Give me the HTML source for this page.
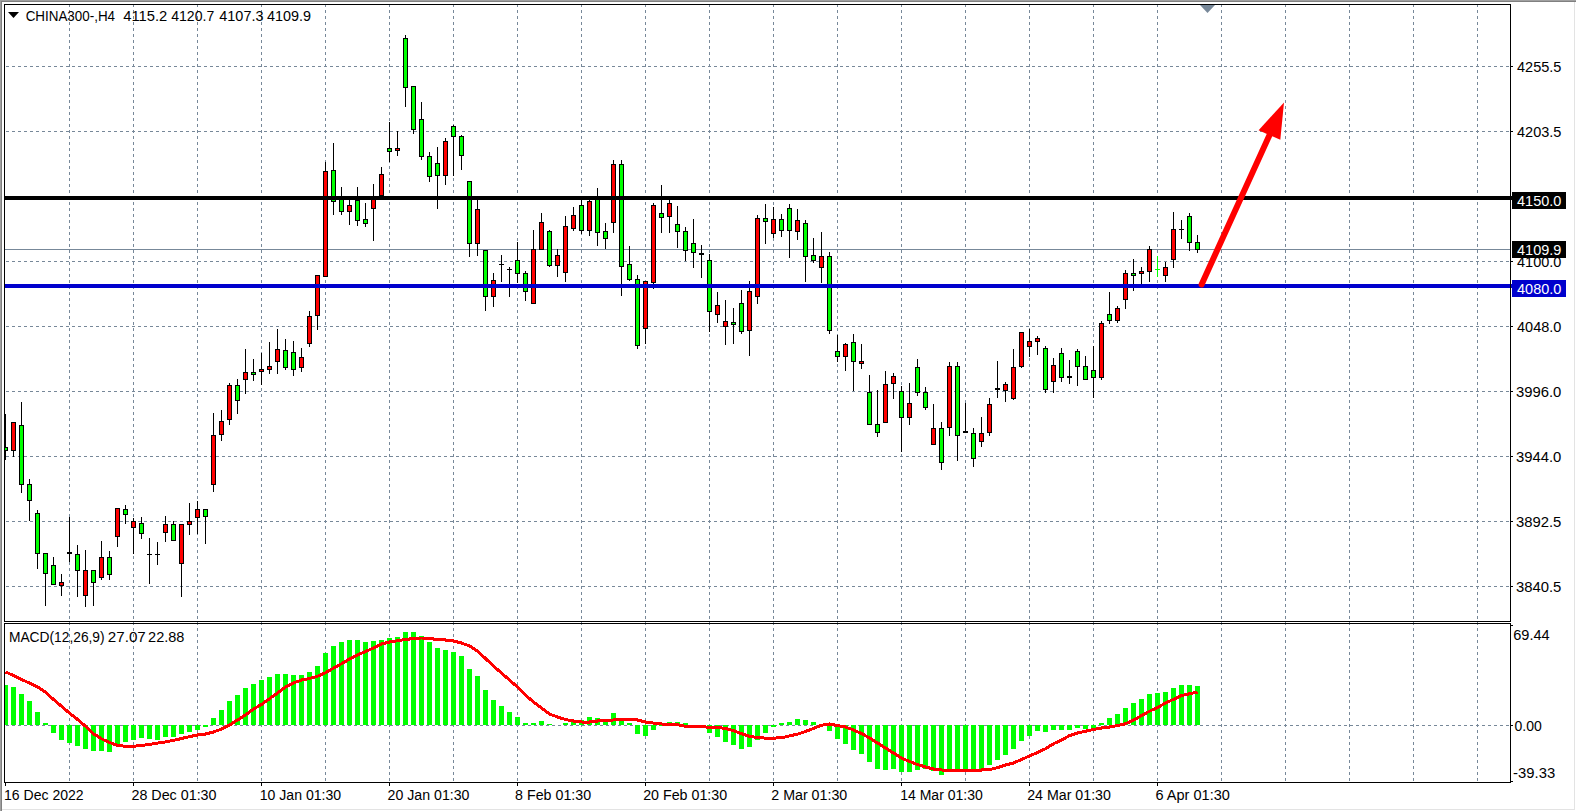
<!DOCTYPE html>
<html><head><meta charset="utf-8"><title>CHINA300-,H4</title>
<style>
html,body{margin:0;padding:0;background:#fff;overflow:hidden;}
svg{display:block;}
text{font-family:'Liberation Sans', Arial, sans-serif;}
</style></head><body>
<svg width="1576" height="811" viewBox="0 0 1576 811">
<rect x="0" y="0" width="1576" height="811" fill="#fff"/>

<g shape-rendering="crispEdges">
<rect x="0" y="0" width="1576" height="1" fill="#a0a0a0"/>
<rect x="0" y="1" width="1576" height="1" fill="#808080"/>
<rect x="0" y="0" width="1" height="811" fill="#a0a0a0"/>
<rect x="1" y="1" width="1" height="810" fill="#808080"/>
<rect x="1574" y="2" width="1" height="808" fill="#e3e3e3"/>
<rect x="2" y="809" width="1573" height="1" fill="#e3e3e3"/>
</g>
<defs><clipPath id="cm"><rect x="5" y="5" width="1505" height="616"/></clipPath><clipPath id="cv"><rect x="5" y="5" width="1505" height="777"/></clipPath><clipPath id="cd"><rect x="5" y="624" width="1505" height="158"/></clipPath></defs>
<g clip-path="url(#cm)" shape-rendering="crispEdges" stroke="#778899" stroke-width="1" stroke-dasharray="3 3" fill="none">
<line x1="0" y1="66.5" x2="1510" y2="66.5"/>
<line x1="0" y1="131.5" x2="1510" y2="131.5"/>
<line x1="0" y1="196.5" x2="1510" y2="196.5"/>
<line x1="0" y1="261.5" x2="1510" y2="261.5"/>
<line x1="0" y1="326.5" x2="1510" y2="326.5"/>
<line x1="0" y1="391.5" x2="1510" y2="391.5"/>
<line x1="0" y1="456.5" x2="1510" y2="456.5"/>
<line x1="0" y1="521.5" x2="1510" y2="521.5"/>
<line x1="0" y1="586.5" x2="1510" y2="586.5"/>
</g>
<g clip-path="url(#cv)" shape-rendering="crispEdges" stroke="#778899" stroke-width="1" stroke-dasharray="3 3" fill="none">
<line x1="69.5" y1="-2" x2="69.5" y2="790"/>
<line x1="133.5" y1="-2" x2="133.5" y2="790"/>
<line x1="197.5" y1="-2" x2="197.5" y2="790"/>
<line x1="261.5" y1="-2" x2="261.5" y2="790"/>
<line x1="325.5" y1="-2" x2="325.5" y2="790"/>
<line x1="389.5" y1="-2" x2="389.5" y2="790"/>
<line x1="453.5" y1="-2" x2="453.5" y2="790"/>
<line x1="517.5" y1="-2" x2="517.5" y2="790"/>
<line x1="581.5" y1="-2" x2="581.5" y2="790"/>
<line x1="645.5" y1="-2" x2="645.5" y2="790"/>
<line x1="709.5" y1="-2" x2="709.5" y2="790"/>
<line x1="773.5" y1="-2" x2="773.5" y2="790"/>
<line x1="837.5" y1="-2" x2="837.5" y2="790"/>
<line x1="901.5" y1="-2" x2="901.5" y2="790"/>
<line x1="965.5" y1="-2" x2="965.5" y2="790"/>
<line x1="1029.5" y1="-2" x2="1029.5" y2="790"/>
<line x1="1093.5" y1="-2" x2="1093.5" y2="790"/>
<line x1="1157.5" y1="-2" x2="1157.5" y2="790"/>
<line x1="1221.5" y1="-2" x2="1221.5" y2="790"/>
<line x1="1285.5" y1="-2" x2="1285.5" y2="790"/>
<line x1="1349.5" y1="-2" x2="1349.5" y2="790"/>
<line x1="1413.5" y1="-2" x2="1413.5" y2="790"/>
<line x1="1477.5" y1="-2" x2="1477.5" y2="790"/>
</g>
<g clip-path="url(#cd)" shape-rendering="crispEdges" stroke="#778899" stroke-width="1" stroke-dasharray="3 3" fill="none">
<line x1="0" y1="725.5" x2="1510" y2="725.5"/>
</g>
<rect x="5" y="249" width="1505" height="1" fill="#778899" shape-rendering="crispEdges"/>
<g clip-path="url(#cm)" shape-rendering="crispEdges">
<rect x="5" y="414" width="1" height="46" fill="#000"/>
<rect x="3" y="447" width="5" height="4" fill="#000"/>
<rect x="4" y="448" width="3" height="2" fill="#00ff00"/>
<rect x="13" y="422" width="1" height="35" fill="#000"/>
<rect x="11" y="422" width="5" height="29" fill="#000"/>
<rect x="12" y="423" width="3" height="27" fill="#ff0000"/>
<rect x="21" y="402" width="1" height="91" fill="#000"/>
<rect x="19" y="425" width="5" height="60" fill="#000"/>
<rect x="20" y="426" width="3" height="58" fill="#00ff00"/>
<rect x="29" y="479" width="1" height="42" fill="#000"/>
<rect x="27" y="484" width="5" height="17" fill="#000"/>
<rect x="28" y="485" width="3" height="15" fill="#00ff00"/>
<rect x="37" y="510" width="1" height="59" fill="#000"/>
<rect x="35" y="513" width="5" height="41" fill="#000"/>
<rect x="36" y="514" width="3" height="39" fill="#00ff00"/>
<rect x="45" y="553" width="1" height="53" fill="#000"/>
<rect x="43" y="553" width="5" height="21" fill="#000"/>
<rect x="44" y="554" width="3" height="19" fill="#00ff00"/>
<rect x="53" y="557" width="1" height="28" fill="#000"/>
<rect x="51" y="565" width="5" height="20" fill="#000"/>
<rect x="52" y="566" width="3" height="18" fill="#00ff00"/>
<rect x="61" y="574" width="1" height="22" fill="#000"/>
<rect x="59" y="582" width="5" height="4" fill="#000"/>
<rect x="60" y="583" width="3" height="2" fill="#ff0000"/>
<rect x="69" y="517" width="1" height="45" fill="#000"/>
<rect x="67" y="552" width="5" height="2" fill="#000"/>
<rect x="77" y="545" width="1" height="52" fill="#000"/>
<rect x="75" y="554" width="5" height="17" fill="#000"/>
<rect x="76" y="555" width="3" height="15" fill="#00ff00"/>
<rect x="85" y="550" width="1" height="57" fill="#000"/>
<rect x="83" y="570" width="5" height="26" fill="#000"/>
<rect x="84" y="571" width="3" height="24" fill="#ff0000"/>
<rect x="93" y="570" width="1" height="36" fill="#000"/>
<rect x="91" y="570" width="5" height="13" fill="#000"/>
<rect x="92" y="571" width="3" height="11" fill="#00ff00"/>
<rect x="101" y="541" width="1" height="39" fill="#000"/>
<rect x="99" y="557" width="5" height="21" fill="#000"/>
<rect x="100" y="558" width="3" height="19" fill="#ff0000"/>
<rect x="109" y="551" width="1" height="29" fill="#000"/>
<rect x="107" y="557" width="5" height="18" fill="#000"/>
<rect x="108" y="558" width="3" height="16" fill="#00ff00"/>
<rect x="117" y="508" width="1" height="39" fill="#000"/>
<rect x="115" y="508" width="5" height="29" fill="#000"/>
<rect x="116" y="509" width="3" height="27" fill="#ff0000"/>
<rect x="125" y="505" width="1" height="19" fill="#000"/>
<rect x="123" y="509" width="5" height="6" fill="#000"/>
<rect x="124" y="510" width="3" height="4" fill="#00ff00"/>
<rect x="133" y="518" width="1" height="36" fill="#000"/>
<rect x="131" y="521" width="5" height="7" fill="#000"/>
<rect x="132" y="522" width="3" height="5" fill="#ff0000"/>
<rect x="141" y="517" width="1" height="22" fill="#000"/>
<rect x="139" y="523" width="5" height="11" fill="#000"/>
<rect x="140" y="524" width="3" height="9" fill="#00ff00"/>
<rect x="149" y="538" width="1" height="46" fill="#000"/>
<rect x="147" y="554" width="5" height="1" fill="#000"/>
<rect x="157" y="542" width="1" height="23" fill="#000"/>
<rect x="155" y="554" width="5" height="1" fill="#000"/>
<rect x="165" y="516" width="1" height="26" fill="#000"/>
<rect x="163" y="524" width="5" height="9" fill="#000"/>
<rect x="164" y="525" width="3" height="7" fill="#ff0000"/>
<rect x="173" y="521" width="1" height="20" fill="#000"/>
<rect x="171" y="524" width="5" height="17" fill="#000"/>
<rect x="172" y="525" width="3" height="15" fill="#00ff00"/>
<rect x="181" y="524" width="1" height="73" fill="#000"/>
<rect x="179" y="524" width="5" height="40" fill="#000"/>
<rect x="180" y="525" width="3" height="38" fill="#ff0000"/>
<rect x="189" y="503" width="1" height="32" fill="#000"/>
<rect x="187" y="521" width="5" height="4" fill="#000"/>
<rect x="188" y="522" width="3" height="2" fill="#ff0000"/>
<rect x="197" y="501" width="1" height="33" fill="#000"/>
<rect x="195" y="509" width="5" height="9" fill="#000"/>
<rect x="196" y="510" width="3" height="7" fill="#ff0000"/>
<rect x="205" y="509" width="1" height="35" fill="#000"/>
<rect x="203" y="509" width="5" height="8" fill="#000"/>
<rect x="204" y="510" width="3" height="6" fill="#00ff00"/>
<rect x="213" y="413" width="1" height="79" fill="#000"/>
<rect x="211" y="435" width="5" height="50" fill="#000"/>
<rect x="212" y="436" width="3" height="48" fill="#ff0000"/>
<rect x="221" y="410" width="1" height="31" fill="#000"/>
<rect x="219" y="421" width="5" height="14" fill="#000"/>
<rect x="220" y="422" width="3" height="12" fill="#ff0000"/>
<rect x="229" y="383" width="1" height="42" fill="#000"/>
<rect x="227" y="385" width="5" height="35" fill="#000"/>
<rect x="228" y="386" width="3" height="33" fill="#ff0000"/>
<rect x="237" y="379" width="1" height="35" fill="#000"/>
<rect x="235" y="385" width="5" height="16" fill="#000"/>
<rect x="236" y="386" width="3" height="14" fill="#00ff00"/>
<rect x="245" y="349" width="1" height="45" fill="#000"/>
<rect x="243" y="372" width="5" height="8" fill="#000"/>
<rect x="244" y="373" width="3" height="6" fill="#ff0000"/>
<rect x="253" y="359" width="1" height="22" fill="#000"/>
<rect x="251" y="372" width="5" height="3" fill="#000"/>
<rect x="252" y="373" width="3" height="1" fill="#00ff00"/>
<rect x="261" y="353" width="1" height="32" fill="#000"/>
<rect x="259" y="369" width="5" height="3" fill="#000"/>
<rect x="260" y="370" width="3" height="1" fill="#ff0000"/>
<rect x="269" y="342" width="1" height="32" fill="#000"/>
<rect x="267" y="366" width="5" height="4" fill="#000"/>
<rect x="268" y="367" width="3" height="2" fill="#ff0000"/>
<rect x="277" y="329" width="1" height="45" fill="#000"/>
<rect x="275" y="349" width="5" height="13" fill="#000"/>
<rect x="276" y="350" width="3" height="11" fill="#ff0000"/>
<rect x="285" y="339" width="1" height="31" fill="#000"/>
<rect x="283" y="350" width="5" height="18" fill="#000"/>
<rect x="284" y="351" width="3" height="16" fill="#00ff00"/>
<rect x="293" y="341" width="1" height="35" fill="#000"/>
<rect x="291" y="352" width="5" height="18" fill="#000"/>
<rect x="292" y="353" width="3" height="16" fill="#00ff00"/>
<rect x="301" y="348" width="1" height="24" fill="#000"/>
<rect x="299" y="357" width="5" height="11" fill="#000"/>
<rect x="300" y="358" width="3" height="9" fill="#ff0000"/>
<rect x="309" y="311" width="1" height="36" fill="#000"/>
<rect x="307" y="316" width="5" height="28" fill="#000"/>
<rect x="308" y="317" width="3" height="26" fill="#ff0000"/>
<rect x="317" y="275" width="1" height="55" fill="#000"/>
<rect x="315" y="275" width="5" height="41" fill="#000"/>
<rect x="316" y="276" width="3" height="39" fill="#ff0000"/>
<rect x="325" y="162" width="1" height="115" fill="#000"/>
<rect x="323" y="171" width="5" height="106" fill="#000"/>
<rect x="324" y="172" width="3" height="104" fill="#ff0000"/>
<rect x="333" y="143" width="1" height="72" fill="#000"/>
<rect x="331" y="170" width="5" height="32" fill="#000"/>
<rect x="332" y="171" width="3" height="30" fill="#00ff00"/>
<rect x="341" y="187" width="1" height="28" fill="#000"/>
<rect x="339" y="199" width="5" height="13" fill="#000"/>
<rect x="340" y="200" width="3" height="11" fill="#00ff00"/>
<rect x="349" y="200" width="1" height="25" fill="#000"/>
<rect x="347" y="205" width="5" height="7" fill="#000"/>
<rect x="348" y="206" width="3" height="5" fill="#ff0000"/>
<rect x="357" y="187" width="1" height="39" fill="#000"/>
<rect x="355" y="200" width="5" height="21" fill="#000"/>
<rect x="356" y="201" width="3" height="19" fill="#00ff00"/>
<rect x="365" y="203" width="1" height="24" fill="#000"/>
<rect x="363" y="219" width="5" height="5" fill="#000"/>
<rect x="364" y="220" width="3" height="3" fill="#00ff00"/>
<rect x="373" y="184" width="1" height="57" fill="#000"/>
<rect x="371" y="199" width="5" height="10" fill="#000"/>
<rect x="372" y="200" width="3" height="8" fill="#ff0000"/>
<rect x="381" y="167" width="1" height="29" fill="#000"/>
<rect x="379" y="174" width="5" height="22" fill="#000"/>
<rect x="380" y="175" width="3" height="20" fill="#ff0000"/>
<rect x="389" y="122" width="1" height="40" fill="#000"/>
<rect x="387" y="148" width="5" height="4" fill="#000"/>
<rect x="388" y="149" width="3" height="2" fill="#00ff00"/>
<rect x="397" y="131" width="1" height="25" fill="#000"/>
<rect x="395" y="148" width="5" height="3" fill="#000"/>
<rect x="396" y="149" width="3" height="1" fill="#ff0000"/>
<rect x="405" y="35" width="1" height="72" fill="#000"/>
<rect x="403" y="38" width="5" height="50" fill="#000"/>
<rect x="404" y="39" width="3" height="48" fill="#00ff00"/>
<rect x="413" y="86" width="1" height="48" fill="#000"/>
<rect x="411" y="86" width="5" height="44" fill="#000"/>
<rect x="412" y="87" width="3" height="42" fill="#00ff00"/>
<rect x="421" y="102" width="1" height="58" fill="#000"/>
<rect x="419" y="119" width="5" height="38" fill="#000"/>
<rect x="420" y="120" width="3" height="36" fill="#00ff00"/>
<rect x="429" y="152" width="1" height="30" fill="#000"/>
<rect x="427" y="156" width="5" height="21" fill="#000"/>
<rect x="428" y="157" width="3" height="19" fill="#00ff00"/>
<rect x="437" y="147" width="1" height="62" fill="#000"/>
<rect x="435" y="163" width="5" height="13" fill="#000"/>
<rect x="436" y="164" width="3" height="11" fill="#00ff00"/>
<rect x="445" y="138" width="1" height="47" fill="#000"/>
<rect x="443" y="141" width="5" height="35" fill="#000"/>
<rect x="444" y="142" width="3" height="33" fill="#ff0000"/>
<rect x="453" y="125" width="1" height="51" fill="#000"/>
<rect x="451" y="126" width="5" height="11" fill="#000"/>
<rect x="452" y="127" width="3" height="9" fill="#00ff00"/>
<rect x="461" y="135" width="1" height="35" fill="#000"/>
<rect x="459" y="136" width="5" height="20" fill="#000"/>
<rect x="460" y="137" width="3" height="18" fill="#00ff00"/>
<rect x="469" y="181" width="1" height="76" fill="#000"/>
<rect x="467" y="181" width="5" height="63" fill="#000"/>
<rect x="468" y="182" width="3" height="61" fill="#00ff00"/>
<rect x="477" y="200" width="1" height="56" fill="#000"/>
<rect x="475" y="209" width="5" height="35" fill="#000"/>
<rect x="476" y="210" width="3" height="33" fill="#ff0000"/>
<rect x="485" y="250" width="1" height="61" fill="#000"/>
<rect x="483" y="250" width="5" height="47" fill="#000"/>
<rect x="484" y="251" width="3" height="45" fill="#00ff00"/>
<rect x="493" y="273" width="1" height="34" fill="#000"/>
<rect x="491" y="280" width="5" height="17" fill="#000"/>
<rect x="492" y="281" width="3" height="15" fill="#ff0000"/>
<rect x="501" y="255" width="1" height="27" fill="#000"/>
<rect x="499" y="264" width="5" height="1" fill="#000"/>
<rect x="509" y="267" width="1" height="30" fill="#000"/>
<rect x="507" y="269" width="5" height="1" fill="#000"/>
<rect x="517" y="242" width="1" height="41" fill="#000"/>
<rect x="515" y="260" width="5" height="14" fill="#000"/>
<rect x="516" y="261" width="3" height="12" fill="#00ff00"/>
<rect x="525" y="271" width="1" height="30" fill="#000"/>
<rect x="523" y="273" width="5" height="19" fill="#000"/>
<rect x="524" y="274" width="3" height="17" fill="#00ff00"/>
<rect x="533" y="230" width="1" height="73" fill="#000"/>
<rect x="531" y="249" width="5" height="55" fill="#000"/>
<rect x="532" y="250" width="3" height="53" fill="#ff0000"/>
<rect x="541" y="213" width="1" height="36" fill="#000"/>
<rect x="539" y="222" width="5" height="28" fill="#000"/>
<rect x="540" y="223" width="3" height="26" fill="#ff0000"/>
<rect x="549" y="230" width="1" height="37" fill="#000"/>
<rect x="547" y="231" width="5" height="35" fill="#000"/>
<rect x="548" y="232" width="3" height="33" fill="#00ff00"/>
<rect x="557" y="249" width="1" height="28" fill="#000"/>
<rect x="555" y="255" width="5" height="11" fill="#000"/>
<rect x="556" y="256" width="3" height="9" fill="#ff0000"/>
<rect x="565" y="216" width="1" height="66" fill="#000"/>
<rect x="563" y="226" width="5" height="47" fill="#000"/>
<rect x="564" y="227" width="3" height="45" fill="#ff0000"/>
<rect x="573" y="207" width="1" height="24" fill="#000"/>
<rect x="571" y="215" width="5" height="14" fill="#000"/>
<rect x="572" y="216" width="3" height="12" fill="#ff0000"/>
<rect x="581" y="200" width="1" height="34" fill="#000"/>
<rect x="579" y="205" width="5" height="26" fill="#000"/>
<rect x="580" y="206" width="3" height="24" fill="#00ff00"/>
<rect x="589" y="200" width="1" height="36" fill="#000"/>
<rect x="587" y="201" width="5" height="30" fill="#000"/>
<rect x="588" y="202" width="3" height="28" fill="#ff0000"/>
<rect x="597" y="188" width="1" height="58" fill="#000"/>
<rect x="595" y="198" width="5" height="35" fill="#000"/>
<rect x="596" y="199" width="3" height="33" fill="#00ff00"/>
<rect x="605" y="223" width="1" height="26" fill="#000"/>
<rect x="603" y="231" width="5" height="8" fill="#000"/>
<rect x="604" y="232" width="3" height="6" fill="#00ff00"/>
<rect x="613" y="160" width="1" height="73" fill="#000"/>
<rect x="611" y="164" width="5" height="59" fill="#000"/>
<rect x="612" y="165" width="3" height="57" fill="#ff0000"/>
<rect x="621" y="160" width="1" height="136" fill="#000"/>
<rect x="619" y="164" width="5" height="103" fill="#000"/>
<rect x="620" y="165" width="3" height="101" fill="#00ff00"/>
<rect x="629" y="246" width="1" height="35" fill="#000"/>
<rect x="627" y="264" width="5" height="16" fill="#000"/>
<rect x="628" y="265" width="3" height="14" fill="#00ff00"/>
<rect x="637" y="275" width="1" height="74" fill="#000"/>
<rect x="635" y="279" width="5" height="67" fill="#000"/>
<rect x="636" y="280" width="3" height="65" fill="#00ff00"/>
<rect x="645" y="281" width="1" height="63" fill="#000"/>
<rect x="643" y="281" width="5" height="48" fill="#000"/>
<rect x="644" y="282" width="3" height="46" fill="#ff0000"/>
<rect x="653" y="203" width="1" height="86" fill="#000"/>
<rect x="651" y="205" width="5" height="78" fill="#000"/>
<rect x="652" y="206" width="3" height="76" fill="#ff0000"/>
<rect x="661" y="185" width="1" height="48" fill="#000"/>
<rect x="659" y="213" width="5" height="5" fill="#000"/>
<rect x="660" y="214" width="3" height="3" fill="#00ff00"/>
<rect x="669" y="200" width="1" height="33" fill="#000"/>
<rect x="667" y="203" width="5" height="14" fill="#000"/>
<rect x="668" y="204" width="3" height="12" fill="#ff0000"/>
<rect x="677" y="206" width="1" height="42" fill="#000"/>
<rect x="675" y="224" width="5" height="8" fill="#000"/>
<rect x="676" y="225" width="3" height="6" fill="#00ff00"/>
<rect x="685" y="227" width="1" height="34" fill="#000"/>
<rect x="683" y="231" width="5" height="20" fill="#000"/>
<rect x="684" y="232" width="3" height="18" fill="#00ff00"/>
<rect x="693" y="219" width="1" height="49" fill="#000"/>
<rect x="691" y="243" width="5" height="10" fill="#000"/>
<rect x="692" y="244" width="3" height="8" fill="#00ff00"/>
<rect x="701" y="245" width="1" height="33" fill="#000"/>
<rect x="699" y="253" width="5" height="2" fill="#000"/>
<rect x="709" y="254" width="1" height="78" fill="#000"/>
<rect x="707" y="260" width="5" height="52" fill="#000"/>
<rect x="708" y="261" width="3" height="50" fill="#00ff00"/>
<rect x="717" y="292" width="1" height="31" fill="#000"/>
<rect x="715" y="305" width="5" height="10" fill="#000"/>
<rect x="716" y="306" width="3" height="8" fill="#ff0000"/>
<rect x="725" y="300" width="1" height="45" fill="#000"/>
<rect x="723" y="321" width="5" height="6" fill="#000"/>
<rect x="724" y="322" width="3" height="4" fill="#ff0000"/>
<rect x="733" y="308" width="1" height="36" fill="#000"/>
<rect x="731" y="322" width="5" height="3" fill="#000"/>
<rect x="732" y="323" width="3" height="1" fill="#00ff00"/>
<rect x="741" y="290" width="1" height="44" fill="#000"/>
<rect x="739" y="303" width="5" height="29" fill="#000"/>
<rect x="740" y="304" width="3" height="27" fill="#00ff00"/>
<rect x="749" y="281" width="1" height="75" fill="#000"/>
<rect x="747" y="291" width="5" height="40" fill="#000"/>
<rect x="748" y="292" width="3" height="38" fill="#ff0000"/>
<rect x="757" y="215" width="1" height="89" fill="#000"/>
<rect x="755" y="218" width="5" height="79" fill="#000"/>
<rect x="756" y="219" width="3" height="77" fill="#ff0000"/>
<rect x="765" y="204" width="1" height="40" fill="#000"/>
<rect x="763" y="218" width="5" height="4" fill="#000"/>
<rect x="764" y="219" width="3" height="2" fill="#00ff00"/>
<rect x="773" y="207" width="1" height="31" fill="#000"/>
<rect x="771" y="219" width="5" height="15" fill="#000"/>
<rect x="772" y="220" width="3" height="13" fill="#ff0000"/>
<rect x="781" y="214" width="1" height="23" fill="#000"/>
<rect x="779" y="219" width="5" height="12" fill="#000"/>
<rect x="780" y="220" width="3" height="10" fill="#00ff00"/>
<rect x="789" y="204" width="1" height="54" fill="#000"/>
<rect x="787" y="208" width="5" height="23" fill="#000"/>
<rect x="788" y="209" width="3" height="21" fill="#00ff00"/>
<rect x="797" y="209" width="1" height="31" fill="#000"/>
<rect x="795" y="220" width="5" height="12" fill="#000"/>
<rect x="796" y="221" width="3" height="10" fill="#ff0000"/>
<rect x="805" y="220" width="1" height="62" fill="#000"/>
<rect x="803" y="223" width="5" height="34" fill="#000"/>
<rect x="804" y="224" width="3" height="32" fill="#00ff00"/>
<rect x="813" y="238" width="1" height="25" fill="#000"/>
<rect x="811" y="255" width="5" height="6" fill="#000"/>
<rect x="812" y="256" width="3" height="4" fill="#00ff00"/>
<rect x="821" y="232" width="1" height="51" fill="#000"/>
<rect x="819" y="256" width="5" height="12" fill="#000"/>
<rect x="820" y="257" width="3" height="10" fill="#ff0000"/>
<rect x="829" y="252" width="1" height="82" fill="#000"/>
<rect x="827" y="256" width="5" height="75" fill="#000"/>
<rect x="828" y="257" width="3" height="73" fill="#00ff00"/>
<rect x="837" y="335" width="1" height="27" fill="#000"/>
<rect x="835" y="351" width="5" height="6" fill="#000"/>
<rect x="836" y="352" width="3" height="4" fill="#00ff00"/>
<rect x="845" y="343" width="1" height="28" fill="#000"/>
<rect x="843" y="344" width="5" height="13" fill="#000"/>
<rect x="844" y="345" width="3" height="11" fill="#ff0000"/>
<rect x="853" y="334" width="1" height="57" fill="#000"/>
<rect x="851" y="342" width="5" height="20" fill="#000"/>
<rect x="852" y="343" width="3" height="18" fill="#00ff00"/>
<rect x="861" y="344" width="1" height="25" fill="#000"/>
<rect x="859" y="361" width="5" height="3" fill="#000"/>
<rect x="860" y="362" width="3" height="1" fill="#ff0000"/>
<rect x="869" y="375" width="1" height="50" fill="#000"/>
<rect x="867" y="392" width="5" height="33" fill="#000"/>
<rect x="868" y="393" width="3" height="31" fill="#00ff00"/>
<rect x="877" y="390" width="1" height="47" fill="#000"/>
<rect x="875" y="424" width="5" height="9" fill="#000"/>
<rect x="876" y="425" width="3" height="7" fill="#00ff00"/>
<rect x="885" y="371" width="1" height="52" fill="#000"/>
<rect x="883" y="384" width="5" height="39" fill="#000"/>
<rect x="884" y="385" width="3" height="37" fill="#ff0000"/>
<rect x="893" y="373" width="1" height="26" fill="#000"/>
<rect x="891" y="376" width="5" height="8" fill="#000"/>
<rect x="892" y="377" width="3" height="6" fill="#ff0000"/>
<rect x="901" y="386" width="1" height="66" fill="#000"/>
<rect x="899" y="391" width="5" height="27" fill="#000"/>
<rect x="900" y="392" width="3" height="25" fill="#00ff00"/>
<rect x="909" y="383" width="1" height="42" fill="#000"/>
<rect x="907" y="403" width="5" height="15" fill="#000"/>
<rect x="908" y="404" width="3" height="13" fill="#ff0000"/>
<rect x="917" y="359" width="1" height="37" fill="#000"/>
<rect x="915" y="367" width="5" height="26" fill="#000"/>
<rect x="916" y="368" width="3" height="24" fill="#00ff00"/>
<rect x="925" y="387" width="1" height="23" fill="#000"/>
<rect x="923" y="392" width="5" height="16" fill="#000"/>
<rect x="924" y="393" width="3" height="14" fill="#00ff00"/>
<rect x="933" y="404" width="1" height="41" fill="#000"/>
<rect x="931" y="428" width="5" height="17" fill="#000"/>
<rect x="932" y="429" width="3" height="15" fill="#ff0000"/>
<rect x="941" y="422" width="1" height="48" fill="#000"/>
<rect x="939" y="428" width="5" height="35" fill="#000"/>
<rect x="940" y="429" width="3" height="33" fill="#00ff00"/>
<rect x="949" y="362" width="1" height="74" fill="#000"/>
<rect x="947" y="366" width="5" height="62" fill="#000"/>
<rect x="948" y="367" width="3" height="60" fill="#ff0000"/>
<rect x="957" y="362" width="1" height="99" fill="#000"/>
<rect x="955" y="366" width="5" height="70" fill="#000"/>
<rect x="956" y="367" width="3" height="68" fill="#00ff00"/>
<rect x="965" y="403" width="1" height="30" fill="#000"/>
<rect x="963" y="431" width="5" height="2" fill="#000"/>
<rect x="973" y="428" width="1" height="39" fill="#000"/>
<rect x="971" y="433" width="5" height="26" fill="#000"/>
<rect x="972" y="434" width="3" height="24" fill="#00ff00"/>
<rect x="981" y="417" width="1" height="30" fill="#000"/>
<rect x="979" y="433" width="5" height="9" fill="#000"/>
<rect x="980" y="434" width="3" height="7" fill="#ff0000"/>
<rect x="989" y="398" width="1" height="38" fill="#000"/>
<rect x="987" y="404" width="5" height="29" fill="#000"/>
<rect x="988" y="405" width="3" height="27" fill="#ff0000"/>
<rect x="997" y="361" width="1" height="37" fill="#000"/>
<rect x="995" y="388" width="5" height="2" fill="#000"/>
<rect x="1005" y="382" width="1" height="20" fill="#000"/>
<rect x="1003" y="384" width="5" height="7" fill="#000"/>
<rect x="1004" y="385" width="3" height="5" fill="#ff0000"/>
<rect x="1013" y="349" width="1" height="51" fill="#000"/>
<rect x="1011" y="367" width="5" height="32" fill="#000"/>
<rect x="1012" y="368" width="3" height="30" fill="#ff0000"/>
<rect x="1021" y="332" width="1" height="36" fill="#000"/>
<rect x="1019" y="332" width="5" height="35" fill="#000"/>
<rect x="1020" y="333" width="3" height="33" fill="#ff0000"/>
<rect x="1029" y="329" width="1" height="28" fill="#000"/>
<rect x="1027" y="341" width="5" height="6" fill="#000"/>
<rect x="1028" y="342" width="3" height="4" fill="#ff0000"/>
<rect x="1037" y="336" width="1" height="19" fill="#000"/>
<rect x="1035" y="338" width="5" height="4" fill="#000"/>
<rect x="1036" y="339" width="3" height="2" fill="#ff0000"/>
<rect x="1045" y="346" width="1" height="47" fill="#000"/>
<rect x="1043" y="348" width="5" height="42" fill="#000"/>
<rect x="1044" y="349" width="3" height="40" fill="#00ff00"/>
<rect x="1053" y="358" width="1" height="35" fill="#000"/>
<rect x="1051" y="365" width="5" height="17" fill="#000"/>
<rect x="1052" y="366" width="3" height="15" fill="#ff0000"/>
<rect x="1061" y="348" width="1" height="34" fill="#000"/>
<rect x="1059" y="353" width="5" height="25" fill="#000"/>
<rect x="1060" y="354" width="3" height="23" fill="#00ff00"/>
<rect x="1069" y="360" width="1" height="24" fill="#000"/>
<rect x="1067" y="376" width="5" height="2" fill="#000"/>
<rect x="1077" y="349" width="1" height="37" fill="#000"/>
<rect x="1075" y="351" width="5" height="16" fill="#000"/>
<rect x="1076" y="352" width="3" height="14" fill="#00ff00"/>
<rect x="1085" y="356" width="1" height="24" fill="#000"/>
<rect x="1083" y="366" width="5" height="14" fill="#000"/>
<rect x="1084" y="367" width="3" height="12" fill="#00ff00"/>
<rect x="1093" y="346" width="1" height="52" fill="#000"/>
<rect x="1091" y="370" width="5" height="8" fill="#000"/>
<rect x="1092" y="371" width="3" height="6" fill="#00ff00"/>
<rect x="1101" y="321" width="1" height="59" fill="#000"/>
<rect x="1099" y="323" width="5" height="55" fill="#000"/>
<rect x="1100" y="324" width="3" height="53" fill="#ff0000"/>
<rect x="1109" y="292" width="1" height="32" fill="#000"/>
<rect x="1107" y="314" width="5" height="7" fill="#000"/>
<rect x="1108" y="315" width="3" height="5" fill="#00ff00"/>
<rect x="1117" y="306" width="1" height="17" fill="#000"/>
<rect x="1115" y="308" width="5" height="13" fill="#000"/>
<rect x="1116" y="309" width="3" height="11" fill="#ff0000"/>
<rect x="1125" y="270" width="1" height="39" fill="#000"/>
<rect x="1123" y="273" width="5" height="27" fill="#000"/>
<rect x="1124" y="274" width="3" height="25" fill="#ff0000"/>
<rect x="1133" y="259" width="1" height="32" fill="#000"/>
<rect x="1131" y="273" width="5" height="3" fill="#000"/>
<rect x="1132" y="274" width="3" height="1" fill="#00ff00"/>
<rect x="1141" y="267" width="1" height="17" fill="#000"/>
<rect x="1139" y="271" width="5" height="3" fill="#000"/>
<rect x="1140" y="272" width="3" height="1" fill="#ff0000"/>
<rect x="1149" y="246" width="1" height="36" fill="#000"/>
<rect x="1147" y="249" width="5" height="23" fill="#000"/>
<rect x="1148" y="250" width="3" height="21" fill="#ff0000"/>
<rect x="1157" y="256" width="1" height="21" fill="#00ff00"/>
<rect x="1155" y="269" width="5" height="1" fill="#00ff00"/>
<rect x="1165" y="262" width="1" height="20" fill="#000"/>
<rect x="1163" y="267" width="5" height="9" fill="#000"/>
<rect x="1164" y="268" width="3" height="7" fill="#ff0000"/>
<rect x="1173" y="212" width="1" height="56" fill="#000"/>
<rect x="1171" y="229" width="5" height="31" fill="#000"/>
<rect x="1172" y="230" width="3" height="29" fill="#ff0000"/>
<rect x="1181" y="220" width="1" height="19" fill="#000"/>
<rect x="1179" y="229" width="5" height="1" fill="#000"/>
<rect x="1189" y="213" width="1" height="38" fill="#000"/>
<rect x="1187" y="216" width="5" height="27" fill="#000"/>
<rect x="1188" y="217" width="3" height="25" fill="#00ff00"/>
<rect x="1197" y="235" width="1" height="18" fill="#000"/>
<rect x="1195" y="242" width="5" height="8" fill="#000"/>
<rect x="1196" y="243" width="3" height="6" fill="#00ff00"/>
</g>
<g shape-rendering="crispEdges">
<rect x="5" y="196" width="1507" height="4" fill="#000"/>
<rect x="5" y="284" width="1507" height="4" fill="#0000cd"/>
</g>
<g fill="#ff0000" stroke="none">
<line x1="1201.6" y1="284.4" x2="1270" y2="134" stroke="#ff0000" stroke-width="6" stroke-linecap="round"/>
<polygon points="1284,102.5 1258.6,130.2 1280.3,139.8"/>
</g>
<g clip-path="url(#cd)" shape-rendering="crispEdges" fill="#00ff00">
<rect x="3" y="685" width="5" height="40"/>
<rect x="11" y="687" width="5" height="38"/>
<rect x="19" y="694" width="5" height="31"/>
<rect x="27" y="701" width="5" height="24"/>
<rect x="35" y="712" width="5" height="13"/>
<rect x="43" y="723" width="5" height="2"/>
<rect x="51" y="725" width="5" height="8"/>
<rect x="59" y="725" width="5" height="15"/>
<rect x="67" y="725" width="5" height="18"/>
<rect x="75" y="725" width="5" height="21"/>
<rect x="83" y="725" width="5" height="24"/>
<rect x="91" y="725" width="5" height="26"/>
<rect x="99" y="725" width="5" height="26"/>
<rect x="107" y="725" width="5" height="27"/>
<rect x="115" y="725" width="5" height="20"/>
<rect x="123" y="725" width="5" height="17"/>
<rect x="131" y="725" width="5" height="15"/>
<rect x="139" y="725" width="5" height="13"/>
<rect x="147" y="725" width="5" height="14"/>
<rect x="155" y="725" width="5" height="15"/>
<rect x="163" y="725" width="5" height="12"/>
<rect x="171" y="725" width="5" height="12"/>
<rect x="179" y="725" width="5" height="9"/>
<rect x="187" y="725" width="5" height="7"/>
<rect x="195" y="725" width="5" height="5"/>
<rect x="203" y="725" width="5" height="2"/>
<rect x="211" y="718" width="5" height="7"/>
<rect x="219" y="710" width="5" height="15"/>
<rect x="227" y="701" width="5" height="24"/>
<rect x="235" y="695" width="5" height="30"/>
<rect x="243" y="688" width="5" height="37"/>
<rect x="251" y="684" width="5" height="41"/>
<rect x="259" y="680" width="5" height="45"/>
<rect x="267" y="677" width="5" height="48"/>
<rect x="275" y="674" width="5" height="51"/>
<rect x="283" y="674" width="5" height="51"/>
<rect x="291" y="675" width="5" height="50"/>
<rect x="299" y="675" width="5" height="50"/>
<rect x="307" y="672" width="5" height="53"/>
<rect x="315" y="666" width="5" height="59"/>
<rect x="323" y="653" width="5" height="72"/>
<rect x="331" y="646" width="5" height="79"/>
<rect x="339" y="642" width="5" height="83"/>
<rect x="347" y="640" width="5" height="85"/>
<rect x="355" y="640" width="5" height="85"/>
<rect x="363" y="642" width="5" height="83"/>
<rect x="371" y="641" width="5" height="84"/>
<rect x="379" y="640" width="5" height="85"/>
<rect x="387" y="638" width="5" height="87"/>
<rect x="395" y="637" width="5" height="88"/>
<rect x="403" y="632" width="5" height="93"/>
<rect x="411" y="632" width="5" height="93"/>
<rect x="419" y="636" width="5" height="89"/>
<rect x="427" y="642" width="5" height="83"/>
<rect x="435" y="648" width="5" height="77"/>
<rect x="443" y="650" width="5" height="75"/>
<rect x="451" y="652" width="5" height="73"/>
<rect x="459" y="656" width="5" height="69"/>
<rect x="467" y="669" width="5" height="56"/>
<rect x="475" y="676" width="5" height="49"/>
<rect x="483" y="690" width="5" height="35"/>
<rect x="491" y="700" width="5" height="25"/>
<rect x="499" y="706" width="5" height="19"/>
<rect x="507" y="712" width="5" height="13"/>
<rect x="515" y="717" width="5" height="8"/>
<rect x="523" y="723" width="5" height="2"/>
<rect x="531" y="723" width="5" height="2"/>
<rect x="539" y="721" width="5" height="4"/>
<rect x="547" y="724" width="5" height="1"/>
<rect x="563" y="723" width="5" height="2"/>
<rect x="571" y="722" width="5" height="3"/>
<rect x="579" y="720" width="5" height="5"/>
<rect x="587" y="717" width="5" height="8"/>
<rect x="595" y="718" width="5" height="7"/>
<rect x="603" y="719" width="5" height="6"/>
<rect x="611" y="713" width="5" height="12"/>
<rect x="619" y="721" width="5" height="4"/>
<rect x="627" y="723" width="5" height="2"/>
<rect x="635" y="725" width="5" height="9"/>
<rect x="643" y="725" width="5" height="11"/>
<rect x="651" y="725" width="5" height="5"/>
<rect x="659" y="725" width="5" height="1"/>
<rect x="667" y="722" width="5" height="3"/>
<rect x="675" y="722" width="5" height="3"/>
<rect x="683" y="723" width="5" height="2"/>
<rect x="699" y="725" width="5" height="2"/>
<rect x="707" y="725" width="5" height="8"/>
<rect x="715" y="725" width="5" height="12"/>
<rect x="723" y="725" width="5" height="17"/>
<rect x="731" y="725" width="5" height="20"/>
<rect x="739" y="725" width="5" height="24"/>
<rect x="747" y="725" width="5" height="22"/>
<rect x="755" y="725" width="5" height="15"/>
<rect x="763" y="725" width="5" height="8"/>
<rect x="771" y="725" width="5" height="2"/>
<rect x="779" y="723" width="5" height="2"/>
<rect x="787" y="722" width="5" height="3"/>
<rect x="795" y="719" width="5" height="6"/>
<rect x="803" y="720" width="5" height="5"/>
<rect x="811" y="722" width="5" height="3"/>
<rect x="819" y="724" width="5" height="1"/>
<rect x="827" y="725" width="5" height="6"/>
<rect x="835" y="725" width="5" height="14"/>
<rect x="843" y="725" width="5" height="19"/>
<rect x="851" y="725" width="5" height="25"/>
<rect x="859" y="725" width="5" height="29"/>
<rect x="867" y="725" width="5" height="37"/>
<rect x="875" y="725" width="5" height="44"/>
<rect x="883" y="725" width="5" height="45"/>
<rect x="891" y="725" width="5" height="44"/>
<rect x="899" y="725" width="5" height="47"/>
<rect x="907" y="725" width="5" height="47"/>
<rect x="915" y="725" width="5" height="45"/>
<rect x="923" y="725" width="5" height="44"/>
<rect x="931" y="725" width="5" height="46"/>
<rect x="939" y="725" width="5" height="50"/>
<rect x="947" y="725" width="5" height="46"/>
<rect x="955" y="725" width="5" height="46"/>
<rect x="963" y="725" width="5" height="46"/>
<rect x="971" y="725" width="5" height="45"/>
<rect x="979" y="725" width="5" height="44"/>
<rect x="987" y="725" width="5" height="40"/>
<rect x="995" y="725" width="5" height="35"/>
<rect x="1003" y="725" width="5" height="30"/>
<rect x="1011" y="725" width="5" height="24"/>
<rect x="1019" y="725" width="5" height="16"/>
<rect x="1027" y="725" width="5" height="11"/>
<rect x="1035" y="725" width="5" height="6"/>
<rect x="1043" y="725" width="5" height="7"/>
<rect x="1051" y="725" width="5" height="5"/>
<rect x="1059" y="725" width="5" height="5"/>
<rect x="1067" y="725" width="5" height="5"/>
<rect x="1075" y="725" width="5" height="3"/>
<rect x="1083" y="725" width="5" height="4"/>
<rect x="1091" y="725" width="5" height="3"/>
<rect x="1099" y="723" width="5" height="2"/>
<rect x="1107" y="718" width="5" height="7"/>
<rect x="1115" y="714" width="5" height="11"/>
<rect x="1123" y="708" width="5" height="17"/>
<rect x="1131" y="703" width="5" height="22"/>
<rect x="1139" y="699" width="5" height="26"/>
<rect x="1147" y="694" width="5" height="31"/>
<rect x="1155" y="693" width="5" height="32"/>
<rect x="1163" y="692" width="5" height="33"/>
<rect x="1171" y="688" width="5" height="37"/>
<rect x="1179" y="685" width="5" height="40"/>
<rect x="1187" y="685" width="5" height="40"/>
<rect x="1195" y="686" width="5" height="39"/>
</g>
<g clip-path="url(#cd)"><polyline points="5.5,671.9 13.5,675.6 21.5,679.4 29.5,683.1 37.5,686.9 45.5,692.25 53.5,699.4 61.5,706.25 69.5,713.1 77.5,719.4 85.5,726.25 93.5,733.75 101.5,738.75 109.5,742.5 117.5,745.4 125.5,746.25 133.5,746.25 141.5,745.4 149.5,744.4 157.5,743.1 165.5,741.9 173.5,740.4 181.5,738.5 189.5,736.6 197.5,735 205.5,734 213.5,732 221.5,729 229.5,725 237.5,720 245.5,715 253.5,709 261.5,704.4 269.5,698.75 277.5,693 285.5,687 293.5,683 301.5,680 309.5,678.5 317.5,676.25 325.5,672.75 333.5,668.1 341.5,663.75 349.5,659 357.5,655 365.5,651.5 373.5,648 381.5,644 389.5,642 397.5,640.75 405.5,639.5 413.5,638.5 421.5,638 429.5,638.5 437.5,639.5 445.5,640 453.5,641 461.5,643 469.5,646 477.5,651 485.5,658.5 493.5,666 501.5,673 509.5,680 517.5,687 525.5,695 533.5,702 541.5,708 549.5,714 557.5,717 565.5,719.5 573.5,721 581.5,722 589.5,722 597.5,721 605.5,720.5 613.5,720 621.5,719 629.5,719 637.5,720 645.5,722 653.5,723.1 661.5,724 669.5,724 677.5,724.75 685.5,726.25 693.5,726.5 701.5,726.9 709.5,727.1 717.5,727.25 725.5,728.5 733.5,730.6 741.5,733.75 749.5,736.25 757.5,737.5 765.5,738.1 773.5,738.1 781.5,737.75 789.5,735.9 797.5,734.1 805.5,731.5 813.5,728.4 821.5,725.25 829.5,724 837.5,725.6 845.5,727 853.5,730 861.5,733.5 869.5,738 877.5,743 885.5,748 893.5,753 901.5,758 909.5,761.5 917.5,764.5 925.5,767 933.5,769 941.5,770 949.5,770 957.5,770 965.5,770 973.5,770 981.5,770 989.5,769.5 997.5,767.75 1005.5,765 1013.5,763 1021.5,759.5 1029.5,756 1037.5,752.5 1045.5,748.75 1053.5,743.75 1061.5,740 1069.5,735.6 1077.5,733 1085.5,731.25 1093.5,729.4 1101.5,728 1109.5,727 1117.5,725.6 1125.5,723.75 1133.5,720 1141.5,715.6 1149.5,711.25 1157.5,707.5 1165.5,703 1173.5,699.4 1181.5,695.6 1189.5,693.75 1197.5,692" fill="none" stroke="#ff0000" stroke-width="3" stroke-linejoin="round" shape-rendering="crispEdges"/></g>
<g shape-rendering="crispEdges" fill="#000">
<rect x="4" y="4" width="1507" height="1"/>
<rect x="4" y="621" width="1507" height="1"/>
<rect x="4" y="4" width="1" height="618"/>
<rect x="1510" y="4" width="1" height="618"/>
<rect x="4" y="623" width="1507" height="1"/>
<rect x="4" y="782" width="1507" height="1"/>
<rect x="4" y="623" width="1" height="160"/>
<rect x="1510" y="623" width="1" height="160"/>
<rect x="1511" y="66" width="2" height="1"/>
<rect x="1511" y="131" width="2" height="1"/>
<rect x="1511" y="261" width="2" height="1"/>
<rect x="1511" y="326" width="2" height="1"/>
<rect x="1511" y="391" width="2" height="1"/>
<rect x="1511" y="456" width="2" height="1"/>
<rect x="1511" y="521" width="2" height="1"/>
<rect x="1511" y="586" width="2" height="1"/>
<rect x="1511" y="625" width="2" height="1"/>
<rect x="1511" y="725" width="2" height="1"/>
<rect x="1511" y="781" width="2" height="1"/>
<rect x="5" y="783" width="1" height="3"/>
<rect x="133" y="783" width="1" height="3"/>
<rect x="261" y="783" width="1" height="3"/>
<rect x="389" y="783" width="1" height="3"/>
<rect x="517" y="783" width="1" height="3"/>
<rect x="645" y="783" width="1" height="3"/>
<rect x="773" y="783" width="1" height="3"/>
<rect x="901" y="783" width="1" height="3"/>
<rect x="1029" y="783" width="1" height="3"/>
<rect x="1157" y="783" width="1" height="3"/>
</g>
<polygon points="1200,5 1215,5 1207.5,13" fill="#778899"/>
<polygon points="8,12 19,12 13.5,18" fill="#000"/>
<text x="25.64" y="20.5" font-size="14" fill="#000" textLength="89.42" lengthAdjust="spacingAndGlyphs">CHINA300-,H4</text>
<text x="123.2" y="20.5" font-size="14" fill="#000" textLength="44.02" lengthAdjust="spacingAndGlyphs">4115.2</text>
<text x="171.2" y="20.5" font-size="14" fill="#000" textLength="43.03" lengthAdjust="spacingAndGlyphs">4120.7</text>
<text x="219.3" y="20.5" font-size="14" fill="#000" textLength="44.15" lengthAdjust="spacingAndGlyphs">4107.3</text>
<text x="267.0" y="20.5" font-size="14" fill="#000" textLength="44.05" lengthAdjust="spacingAndGlyphs">4109.9</text>
<text x="8.92" y="641.5" font-size="14" fill="#000" textLength="95.73" lengthAdjust="spacingAndGlyphs">MACD(12,26,9)</text>
<text x="107.82" y="641.5" font-size="14" fill="#000" textLength="38.02" lengthAdjust="spacingAndGlyphs">27.07</text>
<text x="148.06" y="641.5" font-size="14" fill="#000" textLength="36.43" lengthAdjust="spacingAndGlyphs">22.88</text>
<text x="4.0" y="800" font-size="14" fill="#000" textLength="79.66" lengthAdjust="spacingAndGlyphs">16 Dec 2022</text>
<text x="131.48" y="800" font-size="14" fill="#000" textLength="85.07" lengthAdjust="spacingAndGlyphs">28 Dec 01:30</text>
<text x="259.74" y="800" font-size="14" fill="#000" textLength="81.47" lengthAdjust="spacingAndGlyphs">10 Jan 01:30</text>
<text x="387.59" y="800" font-size="14" fill="#000" textLength="81.88" lengthAdjust="spacingAndGlyphs">20 Jan 01:30</text>
<text x="515.08" y="800" font-size="14" fill="#000" textLength="76.07" lengthAdjust="spacingAndGlyphs">8 Feb 01:30</text>
<text x="643.18" y="800" font-size="14" fill="#000" textLength="83.94" lengthAdjust="spacingAndGlyphs">20 Feb 01:30</text>
<text x="771.28" y="800" font-size="14" fill="#000" textLength="75.95" lengthAdjust="spacingAndGlyphs">2 Mar 01:30</text>
<text x="900.2" y="800" font-size="14" fill="#000" textLength="82.6" lengthAdjust="spacingAndGlyphs">14 Mar 01:30</text>
<text x="1027.19" y="800" font-size="14" fill="#000" textLength="83.72" lengthAdjust="spacingAndGlyphs">24 Mar 01:30</text>
<text x="1155.56" y="800" font-size="14" fill="#000" textLength="74.29" lengthAdjust="spacingAndGlyphs">6 Apr 01:30</text>
<text x="1517.0" y="72" font-size="14" fill="#000" textLength="44.36" lengthAdjust="spacingAndGlyphs">4255.5</text>
<text x="1517.0" y="137" font-size="14" fill="#000" textLength="44.36" lengthAdjust="spacingAndGlyphs">4203.5</text>
<text x="1517.0" y="267" font-size="14" fill="#000" textLength="44.36" lengthAdjust="spacingAndGlyphs">4100.0</text>
<text x="1517.0" y="332" font-size="14" fill="#000" textLength="44.36" lengthAdjust="spacingAndGlyphs">4048.0</text>
<text x="1515.94" y="397" font-size="14" fill="#000" textLength="45.44" lengthAdjust="spacingAndGlyphs">3996.0</text>
<text x="1515.94" y="462" font-size="14" fill="#000" textLength="45.44" lengthAdjust="spacingAndGlyphs">3944.0</text>
<text x="1515.94" y="527" font-size="14" fill="#000" textLength="45.44" lengthAdjust="spacingAndGlyphs">3892.5</text>
<text x="1515.94" y="592" font-size="14" fill="#000" textLength="45.44" lengthAdjust="spacingAndGlyphs">3840.5</text>
<text x="1513.21" y="639.5" font-size="14" fill="#000" textLength="36.44" lengthAdjust="spacingAndGlyphs">69.44</text>
<text x="1514.5" y="731" font-size="14" fill="#000" textLength="27.25" lengthAdjust="spacingAndGlyphs">0.00</text>
<text x="1513.14" y="778" font-size="14" fill="#000" textLength="42.0" lengthAdjust="spacingAndGlyphs">-39.33</text>
<rect x="1512" y="192" width="54" height="17" fill="#000" shape-rendering="crispEdges"/>
<rect x="1512" y="241" width="54" height="17" fill="#000" shape-rendering="crispEdges"/>
<rect x="1512" y="280" width="54" height="17" fill="#0000cd" shape-rendering="crispEdges"/>
<text x="1517.0" y="206" font-size="14" fill="#fff" textLength="44.36" lengthAdjust="spacingAndGlyphs">4150.0</text>
<text x="1517.0" y="255" font-size="14" fill="#fff" textLength="44.36" lengthAdjust="spacingAndGlyphs">4109.9</text>
<text x="1517.0" y="294" font-size="14" fill="#fff" textLength="44.36" lengthAdjust="spacingAndGlyphs">4080.0</text>
</svg>
</body></html>
